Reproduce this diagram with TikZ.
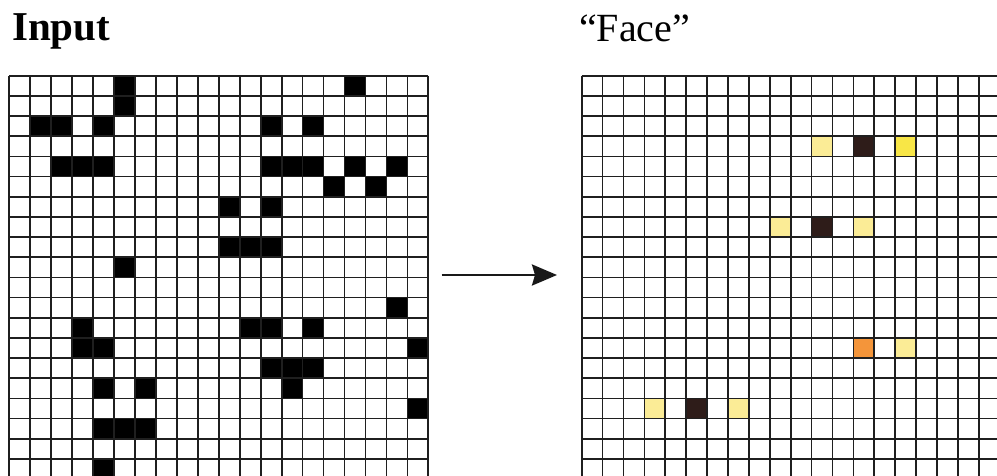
\documentclass[tikz,border=0pt]{standalone}
\usepackage{fontspec}
\setmainfont{Liberation Serif}
\usetikzlibrary{arrows.meta}
\definecolor{pale}{HTML}{FBEC96}
\definecolor{brightyel}{HTML}{F8E646}
\definecolor{darkbrown}{HTML}{2E1C19}
\definecolor{orangecell}{HTML}{F4953A}
\tikzset{
  gridline/.style={draw=black!88, line width=1.7pt},
  title/.style={anchor=base west, inner sep=0pt, font=\fontsize{41}{41}\selectfont},
  conn/.style={draw=black!90, line width=2.7pt, -{Stealth[length=25pt,width=21pt,inset=3pt]}}
}
\begin{document}
\begin{tikzpicture}[x=1pt,y=-1pt]
\useasboundingbox (0,0) rectangle (997,475);
\clip (0,0) rectangle (997,475);
% titles
\node[title, font=\fontsize{41}{41}\selectfont\bfseries] (tin) at (12,40.7) {Input};
\node[title, font=\fontsize{40}{40}\selectfont] (tface) at (579,41.5) {“Face”};
% left grid cells
\foreach \c/\r in {5/0,16/0,5/1,1/2,2/2,4/2,12/2,14/2,2/4,3/4,4/4,12/4,13/4,14/4,16/4,18/4,15/5,17/5,10/6,12/6,10/8,11/8,12/8,5/9,18/11,3/12,11/12,12/12,14/12,3/13,4/13,19/13,12/14,13/14,14/14,4/15,6/15,13/15,19/16,4/17,5/17,6/17,4/19}
  \fill[black] ({9.3+\c*20.95},{75.7+\r*20.17}) rectangle +(20.95,20.17);
% right grid cells
\foreach \c/\r/\col in {11/3/pale,13/3/darkbrown,15/3/brightyel,9/7/pale,11/7/darkbrown,13/7/pale,13/13/orangecell,15/13/pale,3/16/pale,5/16/darkbrown,7/16/pale}
  \fill[\col] ({581.7+\c*20.9},{75.7+\r*20.17}) rectangle +(20.9,20.17);
% grids
\foreach \i in {0,...,20} {
  \draw[gridline] ({9.3+\i*20.95},75.7) -- ({9.3+\i*20.95},{75.7+20*20.17});
  \draw[gridline] (9.3,{75.7+\i*20.17}) -- ({9.3+20*20.95},{75.7+\i*20.17});
  \draw[gridline] ({581.7+\i*20.9},75.7) -- ({581.7+\i*20.9},{75.7+20*20.17});
  \draw[gridline] (581.7,{75.7+\i*20.17}) -- ({581.7+20*20.9},{75.7+\i*20.17});
}
% arrow
\coordinate (from) at (441.7,275);
\coordinate (to) at (557,275);
\draw[conn] (from) -- (to);
\end{tikzpicture}
\end{document}
